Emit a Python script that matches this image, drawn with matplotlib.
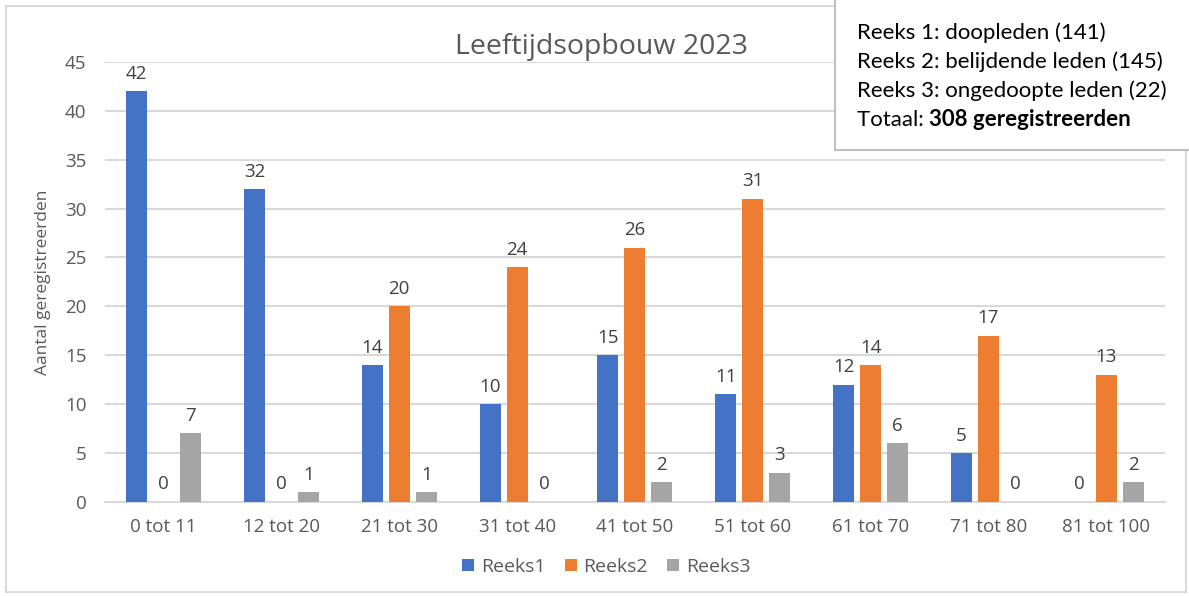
import numpy as np
import matplotlib.pyplot as plt
from matplotlib.patches import Rectangle

# data
categories = ["0 tot 11", "12 tot 20", "21 tot 30", "31 tot 40", "41 tot 50",
              "51 tot 60", "61 tot 70", "71 tot 80", "81 tot 100"]
reeks1 = [42, 32, 14, 10, 15, 11, 12, 5, 0]
reeks2 = [0, 0, 20, 24, 26, 31, 14, 17, 13]
reeks3 = [7, 1, 1, 0, 2, 3, 6, 0, 2]
series_names = ["Reeks1", "Reeks2", "Reeks3"]
colors = ["#4472C4", "#ED7D31", "#A5A5A5"]
info_lines = ["Reeks 1: doopleden (141)",
              "Reeks 2: belijdende leden (145)",
              "Reeks 3: ongedoopte leden (22)"]
total_prefix = "Totaal: "
total_bold = "308 geregistreerden"

plt.rcParams['font.family'] = ['Open Sans', 'DejaVu Sans']
grey_txt = "#595959"

fig = plt.figure(figsize=(11.89, 5.96), dpi=100)
ax = fig.add_axes([0.088, 0.158, 0.892, 0.738])

x = np.arange(len(categories))
pitch = 0.229
width = 0.178
for i, (vals, name, c) in enumerate(zip([reeks1, reeks2, reeks3], series_names, colors)):
    bars = ax.bar(x + (i - 1) * pitch, vals, width, color=c, label=name, zorder=3)
    for b, v in zip(bars, vals):
        ax.annotate(str(v), (b.get_x() + b.get_width() / 2, v), xytext=(0, 6),
                    textcoords="offset points", ha="center", va="bottom",
                    fontsize=13.5, color="#404040")

ax.set_xlim(-0.5, len(categories) - 0.5)
ax.set_ylim(0, 45)
ax.set_yticks(range(0, 46, 5))
ax.set_xticks(x)
ax.set_xticklabels(categories)
ax.yaxis.grid(True, color="#d9d9d9", linewidth=1.5, zorder=0)
ax.set_axisbelow(True)
for s in ["top", "right", "left"]:
    ax.spines[s].set_visible(False)
ax.spines["bottom"].set_color("#d9d9d9")
ax.spines["bottom"].set_linewidth(1.5)
ax.tick_params(axis="both", length=0, labelsize=13.5, labelcolor=grey_txt)
ax.tick_params(axis="x", pad=12)
ax.tick_params(axis="y", pad=13)
ax.set_ylabel("Aantal geregistreerden", fontsize=12.5, color=grey_txt, labelpad=10)

fig.text(0.506, 0.921, "Leeftijdsopbouw 2023", ha="center", va="center",
         fontsize=20.5, color=grey_txt)

fig.legend(loc="center", bbox_to_anchor=(0.51, 596 / 596 - 567 / 596), ncol=3,
           frameon=False, fontsize=14, handlelength=0.6, handleheight=0.6,
           columnspacing=1.0, handletextpad=0.35, labelcolor=grey_txt)

# chart frame
fig.patches.append(Rectangle((6 / 1189, 4 / 596), 1180 / 1189, 586 / 596,
                             transform=fig.transFigure, fill=False,
                             edgecolor="#d9d9d9", linewidth=1.5))

# info box
fig.patches.append(Rectangle((835 / 1189, 446 / 596), 360 / 1189, 160 / 596,
                             transform=fig.transFigure, facecolor="white",
                             edgecolor="#bfbfbf", linewidth=1.5, zorder=5))
box_font = ['Lato', 'DejaVu Sans']
y0 = 1 - 33 / 596
dy = 29 / 596
for k, line in enumerate(info_lines):
    fig.text(857 / 1189, y0 - k * dy, line, ha="left", va="center", fontsize=16,
             color="black", family=box_font, zorder=6)
t = fig.text(857 / 1189, y0 - 3 * dy, total_prefix, ha="left", va="center",
             fontsize=16, color="black", family=box_font, zorder=6)
fig.canvas.draw()
bb = t.get_window_extent(renderer=fig.canvas.get_renderer())
fig.text(bb.x1 / fig.bbox.width, y0 - 3 * dy, total_bold, ha="left", va="center",
         fontsize=16, color="black", fontweight="bold", family=box_font, zorder=6)

fig.savefig("out.png", dpi=100)
